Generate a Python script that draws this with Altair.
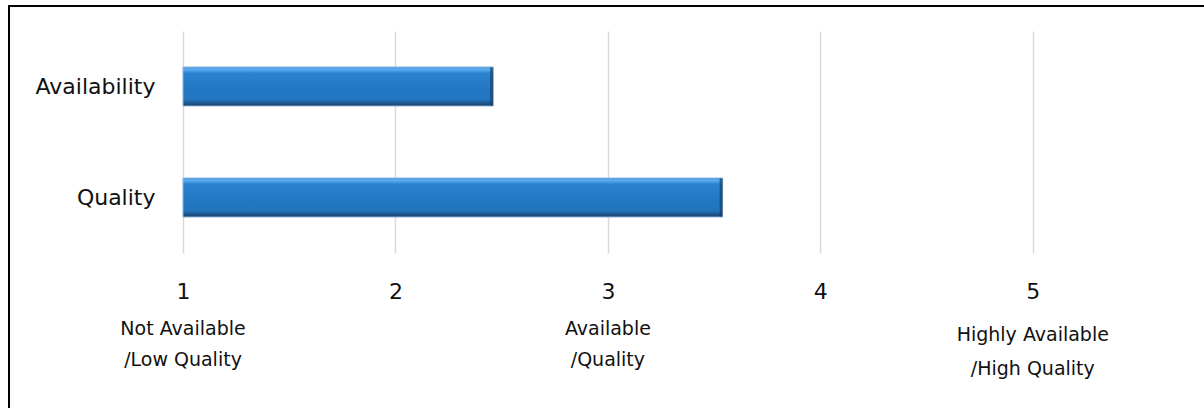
import altair as alt
import pandas as pd

# --- data ---
categories = ["Availability", "Quality"]
scores = [2.46, 3.54]
tick_values = [1, 2, 3, 4, 5]
scale_labels_a = [1, 3]
scale_texts_a = [["Not Available", "/Low Quality"], ["Available", "/Quality"]]
scale_labels_b = [5]
scale_texts_b = [["Highly Available", "/High Quality"]]

bars_df = pd.DataFrame({"category": categories, "score": scores})
lab_a = pd.DataFrame({"pos": scale_labels_a, "text": scale_texts_a})
lab_b = pd.DataFrame({"pos": scale_labels_b, "text": scale_texts_b})

FONT = "DejaVu Sans"
TXT = "#111111"
xscale = alt.Scale(domain=[1, 5.5], nice=False, zero=False)
yscale = alt.Scale(domain=categories, paddingInner=0, paddingOuter=0)

grad = alt.Gradient(
    gradient="linear",
    x1=0, y1=0, x2=0, y2=1,
    stops=[
        alt.GradientStop(offset=0.0, color="#3B8FD8"),
        alt.GradientStop(offset=0.06, color="#5BAEF2"),
        alt.GradientStop(offset=0.16, color="#2B82CE"),
        alt.GradientStop(offset=0.5, color="#2479C5"),
        alt.GradientStop(offset=0.84, color="#2274BD"),
        alt.GradientStop(offset=1.0, color="#183F68"),
    ],
)

base = alt.Chart(bars_df)

bars = base.mark_bar(height=39, color=grad, stroke="#8DB6DE", strokeWidth=1).encode(
    x=alt.X(
        "score:Q",
        scale=xscale,
        title=None,
        axis=alt.Axis(
            values=tick_values,
            grid=True,
            gridColor="#D9D9D9",
            gridWidth=1.5,
            domain=False,
            ticks=False,
            tickSize=0,
            labelPadding=38,
            labelBaseline="middle",
            labelFlush=False,
            labelFont=FONT,
            labelFontSize=22,
            labelColor=TXT,
            format="d",
        ),
    ),
    x2=alt.datum(1),
    y=alt.Y(
        "category:N",
        scale=yscale,
        sort=categories,
        title=None,
        axis=alt.Axis(
            domain=False,
            ticks=False,
            tickSize=0,
            grid=False,
            labelPadding=28,
            labelFont=FONT,
            labelFontSize=22,
            labelColor=TXT,
        ),
    ),
)

ends = base.mark_tick(orient="vertical", size=38, thickness=3, color="#173F66", xOffset=-1.5).encode(
    x=alt.X("score:Q", scale=xscale),
    y=alt.Y("category:N", scale=yscale, sort=categories),
)

text_a = alt.Chart(lab_a).mark_text(
    font=FONT, fontSize=19, color=TXT, align="center", baseline="middle", lineHeight=31
).encode(
    x=alt.X("pos:Q", scale=xscale),
    y=alt.value(298),
    text="text",
)

text_b = alt.Chart(lab_b).mark_text(
    font=FONT, fontSize=19, color=TXT, align="center", baseline="middle", lineHeight=34
).encode(
    x=alt.X("pos:Q", scale=xscale),
    y=alt.value(304),
    text="text",
)

border_top = alt.Chart(bars_df).mark_rule(color="#000000", strokeWidth=2).encode(
    x=alt.value(-174), x2=alt.value(1100), y=alt.value(-25)
)
border_left = alt.Chart(bars_df).mark_rule(color="#000000", strokeWidth=2).encode(
    x=alt.value(-174), y=alt.value(-26), y2=alt.value(400)
)

chart = (
    alt.layer(bars, ends, text_a, text_b, border_top, border_left)
    .properties(
        width=956,
        height=222,
        autosize=alt.AutoSizeParams(type="none"),
        padding={"left": 183, "top": 31, "right": 65, "bottom": 155},
        background="white",
    )
    .configure_view(stroke=None)
)

chart.save("out.html", embed_options={"renderer": "svg", "actions": False})
